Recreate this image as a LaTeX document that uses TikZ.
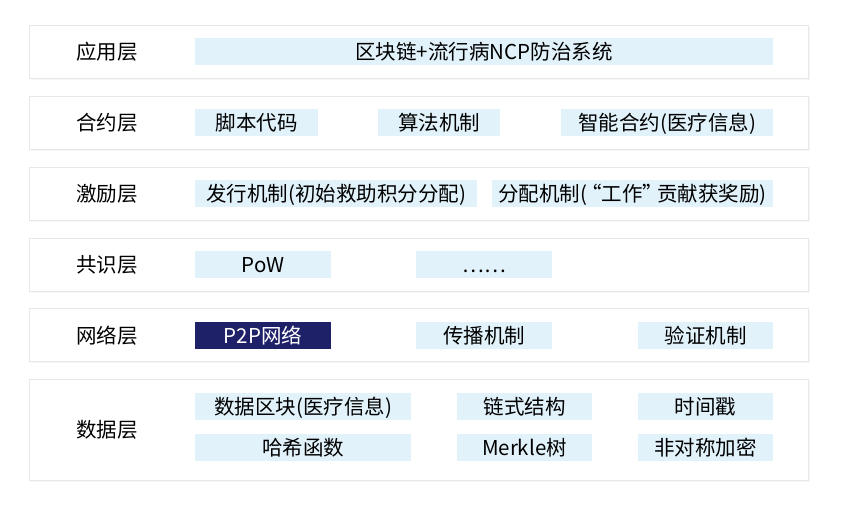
\documentclass[tikz,border=0pt]{standalone}
\usepackage{fontspec}
\setmainfont{Noto Sans CJK SC}
\usetikzlibrary{shadows, positioning}
\definecolor{itemblue}{HTML}{E1F2FA}
\definecolor{navy}{HTML}{1F2168}
\definecolor{layerline}{HTML}{E8E8E8}
\tikzset{%
  % Specifications for style of nodes:
            layerbox/.style = {draw=layerline, fill=white, line width=0.8pt,
                            minimum width=779pt, minimum height=53pt, inner sep=0pt,
                            drop shadow={shadow xshift=1.5pt, shadow yshift=-1.5pt, opacity=0.07}},
            layername/.style = {font=\fontsize{20.5}{20.5}\selectfont, text height=17pt, text depth=1pt},
            itembox/.style = {fill=itemblue, minimum height=27pt, inner sep=0pt,
                            font=\fontsize{20.5}{20.5}\selectfont, text height=17pt, text depth=1pt},
            darkitem/.style = {itembox, fill=navy, text=white}
}
\begin{document}
\begin{tikzpicture}[x=1pt, y=-1pt]
                        \useasboundingbox (0,0) rectangle (843,506);
                        % layers
                        \foreach \nm/\y/\txt in {app/51.5/应用层, con/122.5/合约层, inc/193.5/激励层, cns/264.5/共识层, net/335/网络层}{
                            \node[layerbox] (\nm) at (418.5,\y) {};
                            \node[layername] (\nm-t) at (107,\y) {\txt};
                        }
                        \node[layerbox, minimum height=101pt] (dat) at (418.5,429.5) {};
                        \node[layername] (dat-t) at (107,429.5) {数据层};
                        % application layer
                        \node[itembox, minimum width=578pt] (app1) at (484,51.5) {区块链+流行病NCP防治系统};
                        % contract layer
                        \node[itembox, minimum width=123pt] (con1) at (256.5,122.5) {脚本代码};
                        \node[itembox, minimum width=122pt] (con2) at (439,122.5) {算法机制};
                        \node[itembox, minimum width=212pt] (con3) at (667,122.5) {智能合约(医疗信息)};
                        % incentive layer
                        \node[itembox, minimum width=282pt] (inc1) at (336,193.5) {发行机制(初始救助积分分配)};
                        \node[itembox, minimum width=281pt] (inc2) at (632.5,193.5) {分配机制(\kern-0.3em“工作”\kern-0.3em贡献获奖励)};
                        % consensus layer
                        \node[itembox, minimum width=136pt] (cns1) at (263,264.5) {PoW};
                        \node[itembox, minimum width=136pt] (cns2) at (484,264.5) {……};
                        % network layer
                        \node[darkitem, minimum width=136pt] (net1) at (263,335) {P2P网络};
                        \node[itembox, minimum width=136pt] (net2) at (484,335) {传播机制};
                        \node[itembox, minimum width=135pt] (net3) at (705.5,335) {验证机制};
                        % data layer
                        \node[itembox, minimum width=216pt] (dat1) at (303,406.5) {数据区块(医疗信息)};
                        \node[itembox, minimum width=135pt] (dat2) at (524.5,406.5) {链式结构};
                        \node[itembox, minimum width=135pt] (dat3) at (705.5,406.5) {时间戳};
                        \node[itembox, minimum width=216pt] (dat4) at (303,447.5) {哈希函数};
                        \node[itembox, minimum width=135pt] (dat5) at (524.5,447.5) {Merkle树};
                        \node[itembox, minimum width=135pt] (dat6) at (705.5,447.5) {非对称加密};
                    \end{tikzpicture}
\end{document}
